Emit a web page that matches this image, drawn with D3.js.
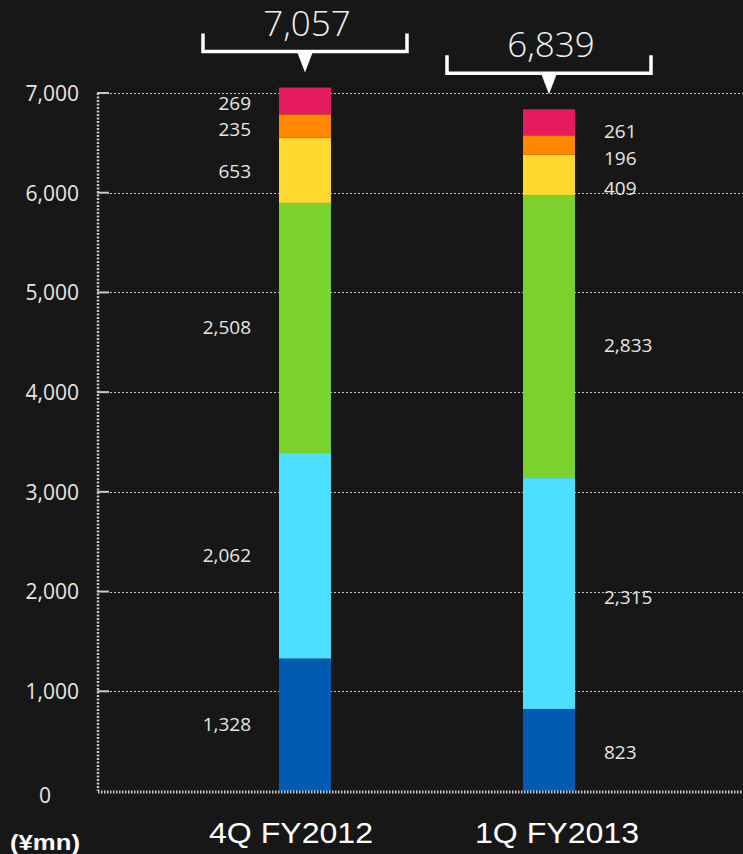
<!DOCTYPE html>
<html>
<head>
<meta charset="utf-8">
<script src="https://cdn.jsdelivr.net/npm/d3@7"></script>
<style>
  html, body { margin: 0; padding: 0; background: #171717; }
  svg { display: block; }
</style>
</head>
<body>
<script>
// Quarterly revenue breakdown (¥mn), stacked by segment
const categories = ["4Q FY2012", "1Q FY2013"];
const segments = ["s1", "s2", "s3", "s4", "s5", "s6"];
const segmentColors = ["#005bb1", "#4ddfff", "#7bd22d", "#ffd92f", "#ff8800", "#e51b5d"];
const values4Q = [1328, 2062, 2508, 653, 235, 269];
const values1Q = [823, 2315, 2833, 409, 196, 261];
const totals = ["7,057", "6,839"];
const yTicks = [0, 1000, 2000, 3000, 4000, 5000, 6000, 7000];
const unitLabel = "(¥mn)";

const W = 743, H = 854;
const margin = { top: 93, bottom: 63, left: 98 };
const numFont = "'Open Sans', Lato, sans-serif";
// vertical nudges (px) that keep the small segment labels apart
const labelNudge = [[0, 0, -1, 1, 3, 2], [2, 4, 8, 13, 13, 9]];

const svg = d3.select("body").append("svg").attr("width", W).attr("height", H);
svg.append("rect").attr("width", W).attr("height", H).attr("fill", "#171717");

const y = d3.scaleLinear().domain([0, 7000]).range([H - margin.bottom, margin.top]);
const x = d3.scaleBand().domain(categories).range([157, 697]).paddingInner(0.787).paddingOuter(0.5);

// gridlines
svg.append("g")
  .selectAll("line")
  .data(yTicks.filter(d => d > 0))
  .join("line")
  .attr("x1", margin.left + 12).attr("x2", W)
  .attr("y1", d => Math.round(y(d)) + 0.5).attr("y2", d => Math.round(y(d)) + 0.5)
  .attr("stroke", "#c8c8c8").attr("stroke-width", 1.2).attr("stroke-dasharray", "2,2");

// y axis
const yAxis = d3.axisLeft(y).tickValues(yTicks).tickFormat(d3.format(",")).tickSize(0).tickPadding(19);
const gy = svg.append("g").attr("transform", `translate(${margin.left},0)`).call(yAxis);
gy.select(".domain").remove();
gy.selectAll("text")
  .attr("fill", "#e6e6e6").attr("font-family", numFont)
  .attr("font-size", 21).attr("dy", "0.35em");
gy.selectAll(".tick").filter(d => d === 0).select("text").attr("dy", "0.55em").attr("dx", "-28");

// vertical dotted axis line
svg.append("line")
  .attr("x1", margin.left).attr("x2", margin.left)
  .attr("y1", y(7000)).attr("y2", y(0))
  .attr("stroke", "#c8c8c8").attr("stroke-width", 2.5).attr("stroke-dasharray", "2,1.5");
// small tick dashes
svg.append("g").selectAll("line").data(yTicks.filter(d => d > 0)).join("line")
  .attr("x1", margin.left - 1).attr("x2", margin.left + 11)
  .attr("y1", d => y(d)).attr("y2", d => y(d))
  .attr("stroke", "#c8c8c8").attr("stroke-width", 2);

// stacked bars
const rows = categories.map((c, i) => {
  const vals = i === 0 ? values4Q : values1Q;
  const r = { category: c };
  segments.forEach((s, j) => r[s] = vals[j]);
  return r;
});
const stack = d3.stack().keys(segments)(rows);

const gBars = svg.append("g");
stack.forEach((layer, j) => {
  gBars.selectAll(null).data(layer).join("rect")
    .attr("x", d => x(d.data.category))
    .attr("width", x.bandwidth())
    .attr("y", d => y(d[1]))
    .attr("height", d => y(d[0]) - y(d[1]))
    .attr("fill", segmentColors[j]);
});

// value labels: left of the first bar, right of the second
stack.forEach((layer, j) => {
  layer.forEach((d, i) => {
    const v = d[1] - d[0];
    const cx = x(d.data.category);
    const lx = i === 0 ? cx - 28 : cx + x.bandwidth() + 29;
    svg.append("text")
      .attr("x", lx)
      .attr("y", (y(d[0]) + y(d[1])) / 2 + labelNudge[i][j])
      .attr("dy", "0.35em")
      .attr("text-anchor", i === 0 ? "end" : "start")
      .attr("fill", "#e6e6e6")
      .attr("font-family", numFont)
      .attr("font-size", 19)
      .text(d3.format(",")(v));
  });
});

// bottom axis dotted line
svg.append("line")
  .attr("x1", margin.left).attr("x2", W)
  .attr("y1", y(0) + 1).attr("y2", y(0) + 1)
  .attr("stroke", "#c8c8c8").attr("stroke-width", 3).attr("stroke-dasharray", "1.5,1.5");

// totals with brackets
rows.forEach((r, i) => {
  const total = segments.reduce((a, s) => a + r[s], 0);
  const cx = x(r.category) + x.bandwidth() / 2;
  const by = y(total) - 36;
  const g = svg.append("g");
  g.append("path")
    .attr("d", `M${cx - 102},${by - 18} V${by} H${cx + 102} V${by - 18}`)
    .attr("fill", "none").attr("stroke", "#ffffff").attr("stroke-width", 3.5);
  g.append("path")
    .attr("d", `M${cx - 8},${by} L${cx + 8},${by} L${cx},${by + 21} Z`)
    .attr("fill", "#ffffff");
  g.append("text")
    .attr("x", cx + 2).attr("y", by - 16)
    .attr("text-anchor", "middle")
    .attr("fill", "#f0f0f0")
    .attr("font-family", numFont)
    .attr("font-weight", 300)
    .attr("font-size", 35)
    .text(totals[i]);
});

// category labels
svg.append("g").selectAll("text").data(categories).join("text")
  .attr("x", (d, i) => x(d) + x.bandwidth() / 2 + (i === 0 ? -14 : 8))
  .attr("y", 843)
  .attr("text-anchor", "middle")
  .attr("fill", "#ffffff")
  .attr("font-family", "'Liberation Sans', Arial, sans-serif")
  .attr("font-size", 29)
  .attr("textLength", 164)
  .attr("lengthAdjust", "spacingAndGlyphs")
  .text(d => d);

svg.append("text")
  .attr("x", 10).attr("y", 850)
  .attr("fill", "#ffffff")
  .attr("font-family", "'Liberation Sans', Arial, sans-serif")
  .attr("font-weight", "bold")
  .attr("font-size", 22)
  .attr("textLength", 70)
  .attr("lengthAdjust", "spacingAndGlyphs")
  .text(unitLabel);
</script>
</body>
</html>
